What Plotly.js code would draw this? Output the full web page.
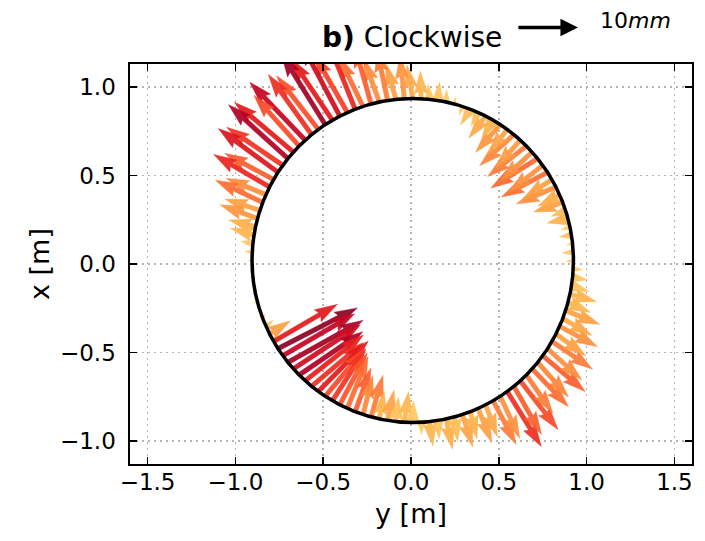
<!DOCTYPE html>
<html>
<head>
<meta charset="utf-8">
<script src="https://cdn.plot.ly/plotly-3.0.1.min.js"></script>
<style>html,body{margin:0;padding:0;background:#fff;}</style>
</head>
<body>
<div id="chart" style="width:705px;height:541px;"></div>
<script>
// ---- data ----
// position of each arrow tail on the circle, degrees (0 = +y direction, counter-clockwise)
const thetaDeg = [0,3,6,9,12,15,18,21,24,27,30,33,36,39,42,45,48,51,54,57,60,63,66,69,72,75,78,81,84,87,
  90,93,96,99,102,105,108,111,114,117,120,123,126,129,132,135,138,141,144,147,150,153,156,159,162,165,168,171,174,177,
  180,183,186,189,192,195,198,201,204,207,210,213,216,219,222,225,228,231,234,237,240,243,246,249,252,255,258,261,264,267,
  270,273,276,279,282,285,288,291,294,297,300,303,306,309,312,315,318,321,324,327,330,333,336,339,342,345,348,351,354,357];
// displacement magnitude, mm
const dispMM = [1.2,1.8,1.0,2.0,1.5,3.5,2.5,5.0,4.0,7.0,5.5,8.5,7.0,9.0,7.0,8.0,6.0,7.5,5.0,6.0,3.5,4.5,2.5,3.0,1.5,1.2,2.0,3.0,2.5,4.5,
  5.5,7.0,6.0,8.5,7.5,10.0,9.0,12.5,11.0,13.5,12.0,13.5,11.0,12.0,13.0,11.0,12.5,13.0,11.0,12.0,9.0,10.5,7.0,8.5,6.0,6.5,4.5,4.0,2.0,1.2,
  0.6,0.4,0.5,0.4,0.5,0.6,0.6,0.8,1.5,4.0,12.0,14.5,13.5,14.0,13.0,12.5,12.0,11.0,11.5,10.0,10.0,9.5,9.0,7.5,6.5,7.0,4.5,5.0,4.0,5.0,
  3.5,2.0,4.0,3.0,5.0,4.0,5.5,4.5,6.0,5.5,8.0,7.5,10.5,9.0,10.0,7.5,8.5,7.5,9.0,7.5,8.0,6.0,7.0,5.5,6.0,4.0,4.5,3.0,2.5,1.5];
// displacement direction, degrees (0 = +y, 90 = +x)
const dispDirDeg = [190,185,195,188,198,192,202,198,208,203,213,208,218,212,222,218,228,222,232,228,238,232,242,238,250,80,88,85,95,92,
  100,96,106,102,110,106,116,112,120,118,124,122,128,126,134,132,140,138,146,144,152,150,158,155,162,160,166,164,170,175,
  180,180,180,180,180,180,90,60,40,32,30,27,30,29,33,34,38,40,45,50,57,62,68,70,76,74,80,78,84,82,
  88,272,278,274,282,278,288,284,292,290,298,295,302,300,308,305,314,312,320,318,326,324,332,330,338,336,344,342,350,355];
// colour value (0 = light yellow, 1 = dark red)
const colorVal = [0.06,0.1,0.05,0.12,0.08,0.2,0.15,0.3,0.22,0.4,0.3,0.5,0.38,0.52,0.4,0.45,0.32,0.42,0.28,0.35,0.2,0.25,0.12,0.15,0.06,
  0.05,0.08,0.12,0.1,0.18,0.25,0.35,0.3,0.45,0.4,0.55,0.5,0.75,0.65,0.85,0.8,0.95,0.6,0.72,0.88,0.62,0.8,0.92,0.7,0.82,0.55,0.75,0.4,0.5,0.3,0.35,0.22,0.18,0.1,0.06,
  0.03,0.03,0.03,0.03,0.03,0.03,0.03,0.05,0.1,0.3,0.8,1.0,0.88,0.95,0.85,0.92,0.78,0.72,0.8,0.62,0.7,0.58,0.5,0.55,0.42,0.45,0.2,0.28,0.12,0.18,
  0.1,0.08,0.18,0.12,0.22,0.15,0.28,0.2,0.3,0.25,0.45,0.38,0.72,0.55,0.62,0.45,0.5,0.42,0.55,0.4,0.45,0.3,0.38,0.25,0.3,0.18,0.2,0.12,0.1,0.06];
// circle (tunnel wall) in metres
const circleY0 = 0.01, circleX0 = 0.02, circleR = 0.915;
const xTicks = [-1.5,-1.0,-0.5,0.0,0.5,1.0,1.5];
const yTicks = [-1.0,-0.5,0.0,0.5,1.0];
const keyLabelMM = 10;

// ---- styling / geometry ----
const mmToAxis = 0.035;     // quiver scale: metres of plot per mm of displacement
const shaftW = 0.026;       // shaft width in axis units
const stops = [[0,[254,217,118]],[0.2,[254,178,76]],[0.4,[253,141,60]],[0.6,[252,78,42]],[0.8,[227,26,28]],[0.9,[189,0,38]],[1,[140,4,38]]];
function cmap(v){
  v = Math.max(0, Math.min(1, v));
  for (let i=1;i<stops.length;i++){
    if (v <= stops[i][0]){
      const t = (v - stops[i-1][0])/(stops[i][0]-stops[i-1][0]);
      const a = stops[i-1][1], b = stops[i][1];
      return 'rgba(' + a.map((c,k)=>Math.round(c+(b[k]-c)*t)).join(',') + ',0.93)';
    }
  }
  return 'rgb(140,4,38)';
}
function arrowPoly(x0, y0, len, dirDeg){
  const hl = 5*shaftW, hal = 4.5*shaftW, hw = 3*shaftW, w = shaftW;
  let s = 1, L = len;
  if (len < hl){ s = len/hl; L = hl; }
  const pts = [[0,-w/2],[L-hal,-w/2],[L-hl,-hw/2],[L,0],[L-hl,hw/2],[L-hal,w/2],[0,w/2],[0,-w/2]];
  const a = dirDeg*Math.PI/180, c = Math.cos(a), sn = Math.sin(a);
  const xs = [], ys = [];
  pts.forEach(p => {
    xs.push(x0 + s*(p[0]*c - p[1]*sn));
    ys.push(y0 + s*(p[0]*sn + p[1]*c));
  });
  return {xs, ys};
}

const traces = [];
for (let i=0;i<thetaDeg.length;i++){
  const t = thetaDeg[i]*Math.PI/180;
  const tx = circleY0 + circleR*Math.cos(t);
  const ty = circleX0 + circleR*Math.sin(t);
  const poly = arrowPoly(tx, ty, dispMM[i]*mmToAxis, dispDirDeg[i]);
  const col = cmap(colorVal[i]);
  traces.push({
    type:'scatter', mode:'lines', x:poly.xs, y:poly.ys,
    fill:'toself', fillcolor:col, line:{width:0.4, color:col},
    hoverinfo:'skip', showlegend:false
  });
}

const axisCommon = {
  showline:true, linecolor:'black', linewidth:1.6, mirror:'ticks',
  ticks:'inside', ticklen:7, tickwidth:1.6, tickcolor:'black',
  showgrid:true, gridcolor:'#b4b4b4', gridwidth:1.6, griddash:'2px,4px',
  zeroline:false, tickformat:'.1f',
  tickfont:{size:23, family:'DejaVu Sans', color:'black'}
};

const layout = {
  width:705, height:541,
  margin:{l:130, r:13, t:64, b:77, pad:0},
  paper_bgcolor:'white', plot_bgcolor:'white',
  font:{family:'DejaVu Sans', color:'black'},
  title:{text:'<b>b)</b> Clockwise', x:0.502, xref:'paper', xanchor:'center', y:0.932, yref:'container', yanchor:'middle',
         font:{size:28, family:'DejaVu Sans', color:'black'}},
  xaxis:Object.assign({}, axisCommon, {range:[-1.6,1.6], tickvals:xTicks, ticklabelstandoff:-3,
         title:{text:'y [m]', font:{size:27, family:'DejaVu Sans'}, standoff:10}}),
  yaxis:Object.assign({}, axisCommon, {range:[-1.13,1.13], tickvals:yTicks, ticklabelstandoff:8,
         title:{text:'x [m]', font:{size:27, family:'DejaVu Sans'}, standoff:2}}),
  shapes:[{type:'circle', xref:'x', yref:'y', layer:'above',
           x0:circleY0-circleR, x1:circleY0+circleR, y0:circleX0-circleR, y1:circleX0+circleR,
           line:{color:'black', width:3.5}}],
  annotations:[
    {xref:'paper', yref:'paper', x:0.797, y:1.091, ax:-61, ay:0, text:'', showarrow:true,
     arrowhead:2, arrowsize:1, arrowwidth:3.5, arrowcolor:'black', standoff:0, startstandoff:0},
    {xref:'paper', yref:'paper', x:0.9, y:1.108, text: keyLabelMM + '<i>mm</i>', showarrow:false,
     xanchor:'center', yanchor:'middle', font:{size:22, family:'DejaVu Sans', color:'black'}}
  ]
};

Plotly.newPlot('chart', traces, layout, {displayModeBar:false, staticPlot:true});
</script>
</body>
</html>
